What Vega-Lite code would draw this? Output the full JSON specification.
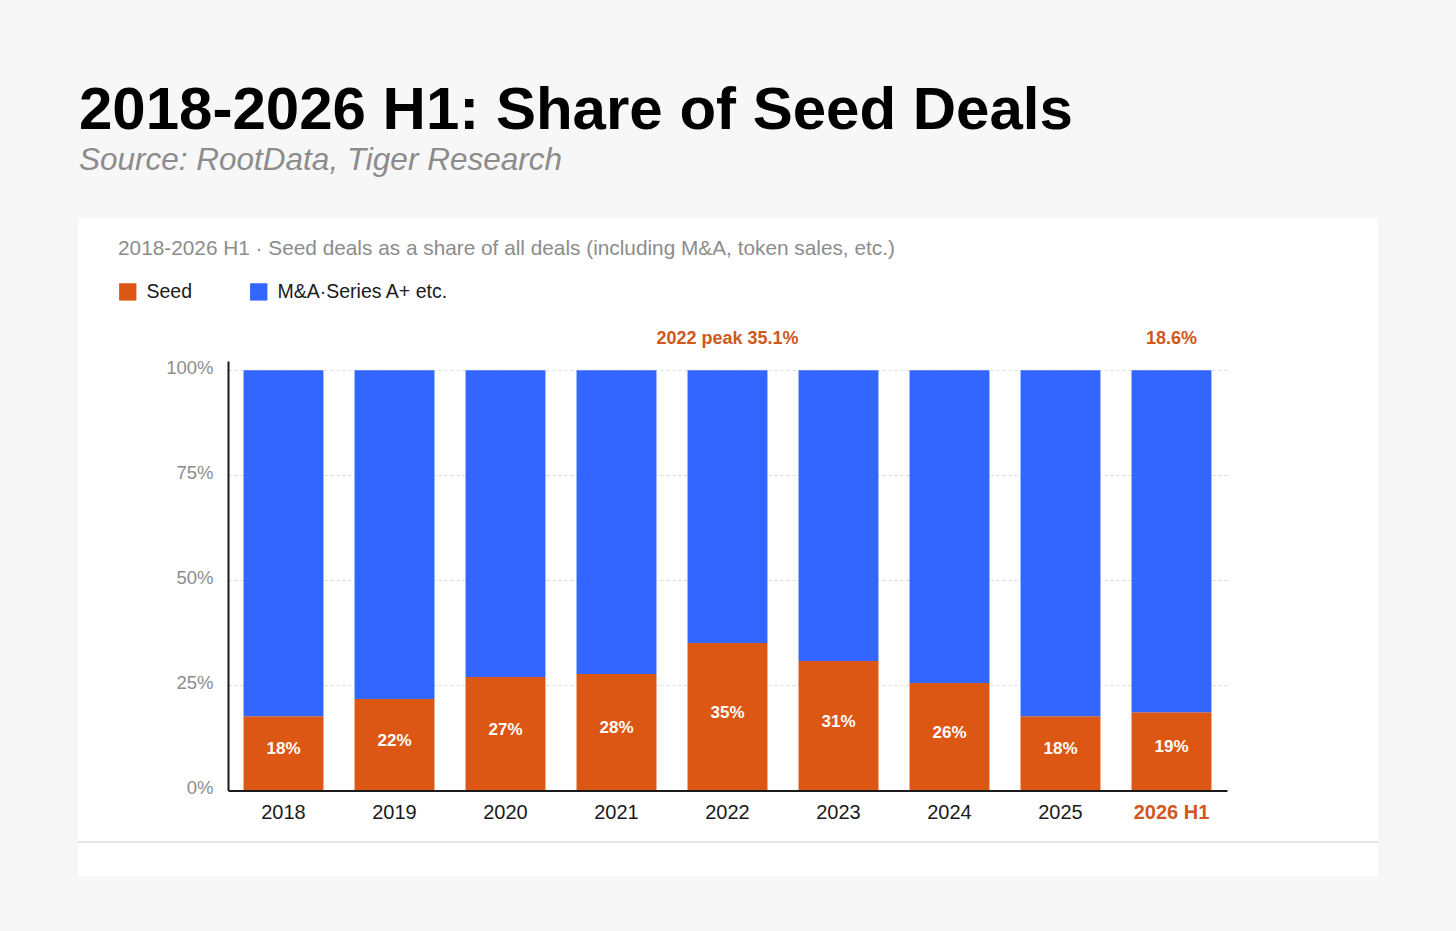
{
  "$schema": "https://vega.github.io/schema/vega-lite/v6.json",
  "description": "Share of seed deals among all deals, 2018 to 2026 H1, as 100% stacked bars.",
  "autosize": {"type": "none"},
  "padding": {"left": 78, "top": 218, "right": 78, "bottom": 55},
  "width": 1300,
  "height": 658,
  "background": "#f7f7f7",
  "config": {
    "font": "Liberation Sans",
    "view": {"fill": "white", "stroke": null}
  },
  "title": {
    "text": "2018-2026 H1: Share of Seed Deals",
    "subtitle": "Source: RootData, Tiger Research",
    "anchor": "start",
    "frame": "group",
    "dx": 1,
    "fontSize": 60,
    "fontWeight": "bold",
    "color": "#000000",
    "subtitleFontSize": 31.5,
    "subtitleFontStyle": "italic",
    "subtitleColor": "#8c8c8c",
    "subtitlePadding": 3,
    "offset": 41
  },
  "data": {
    "values": [
      {"period": "2018", "series": "Seed", "share": 0.177},
      {"period": "2018", "series": "M&A·Series A+ etc.", "share": 0.823},
      {"period": "2019", "series": "Seed", "share": 0.218},
      {"period": "2019", "series": "M&A·Series A+ etc.", "share": 0.782},
      {"period": "2020", "series": "Seed", "share": 0.27},
      {"period": "2020", "series": "M&A·Series A+ etc.", "share": 0.73},
      {"period": "2021", "series": "Seed", "share": 0.277},
      {"period": "2021", "series": "M&A·Series A+ etc.", "share": 0.723},
      {"period": "2022", "series": "Seed", "share": 0.351},
      {"period": "2022", "series": "M&A·Series A+ etc.", "share": 0.649},
      {"period": "2023", "series": "Seed", "share": 0.308},
      {"period": "2023", "series": "M&A·Series A+ etc.", "share": 0.692},
      {"period": "2024", "series": "Seed", "share": 0.256},
      {"period": "2024", "series": "M&A·Series A+ etc.", "share": 0.744},
      {"period": "2025", "series": "Seed", "share": 0.177},
      {"period": "2025", "series": "M&A·Series A+ etc.", "share": 0.823},
      {"period": "2026 H1", "series": "Seed", "share": 0.186},
      {"period": "2026 H1", "series": "M&A·Series A+ etc.", "share": 0.814}
    ]
  },
  "layer": [
    {
      "mark": {"type": "rule", "color": "#e4e4e4", "strokeWidth": 1.5},
      "encoding": {
        "y": {"datum": -0.1225, "type": "quantitative"}
      }
    },
    {
      "mark": {"type": "bar"},
      "encoding": {
        "x": {
          "field": "period",
          "type": "nominal",
          "scale": {"range": [150, 1149], "paddingInner": 0.28, "paddingOuter": 0.14},
          "axis": {
            "title": null,
            "orient": "bottom",
            "offset": -85.5,
            "zindex": 1,
            "ticks": false,
            "grid": false,
            "domainColor": "#1a1a1a",
            "domainWidth": 2,
            "labelAngle": 0,
            "labelFontSize": 20,
            "labelPadding": 12,
            "labelColor": {"condition": {"test": "datum.value == '2026 H1'", "value": "#d0581c"}, "value": "#1a1a1a"},
            "labelFontWeight": {"condition": {"test": "datum.value == '2026 H1'", "value": "bold"}, "value": "normal"}
          }
        },
        "y": {
          "field": "share",
          "type": "quantitative",
          "stack": "zero",
          "scale": {"domain": [0, 1.0223], "range": [572.5, 143], "nice": false, "zero": true},
          "axis": {
            "title": null,
            "format": ".0%",
            "values": [0, 0.25, 0.5, 0.75, 1],
            "offset": -150,
            "ticks": false,
            "grid": true,
            "domainColor": "#1a1a1a",
            "domainWidth": 2,
            "labelColor": "#8c8c8c",
            "labelFontSize": 18.5,
            "labelPadding": 15,
            "labelBaseline": "bottom",
            "labelOffset": 7,
            "gridColor": "#d8d8d8",
            "gridDash": [3, 3],
            "gridWidth": 1
          }
        },
        "color": {
          "field": "series",
          "type": "nominal",
          "scale": {"domain": ["Seed", "M&A·Series A+ etc."], "range": ["#dc5614", "#3366ff"]},
          "legend": {
            "title": "2018-2026 H1 · Seed deals as a share of all deals (including M&A, token sales, etc.)",
            "orient": "none",
            "legendX": 40,
            "legendY": 21,
            "direction": "horizontal",
            "titleFontSize": 20.8,
            "titleFontWeight": "normal",
            "titleColor": "#8c8c8c",
            "titleLimit": 1200,
            "titlePadding": 22,
            "labelFontSize": 19.5,
            "labelColor": "#1a1a1a",
            "labelLimit": 500,
            "labelOffset": 9,
            "symbolType": "square",
            "symbolSize": 300,
            "symbolStrokeWidth": 0,
            "columnPadding": 56
          }
        },
        "order": {"field": "series", "sort": "descending"}
      }
    },
    {
      "transform": [{"filter": "datum.series == 'Seed'"}],
      "mark": {"type": "text", "color": "white", "fontWeight": "bold", "fontSize": 17, "dy": -4},
      "encoding": {
        "x": {"field": "period", "type": "nominal"},
        "y": {"field": "share", "type": "quantitative", "stack": "zero", "bandPosition": 0.5},
        "text": {"field": "share", "type": "quantitative", "format": ".0%"}
      }
    },
    {
      "data": {
        "values": [
          {"period": "2022", "note": "2022 peak 35.1%"},
          {"period": "2026 H1", "note": "18.6%"}
        ]
      },
      "mark": {"type": "text", "color": "#d0581c", "fontWeight": "bold", "fontSize": 18, "dy": -31},
      "encoding": {
        "x": {"field": "period", "type": "nominal"},
        "y": {"datum": 1, "type": "quantitative"},
        "text": {"field": "note", "type": "nominal"}
      }
    }
  ]
}
